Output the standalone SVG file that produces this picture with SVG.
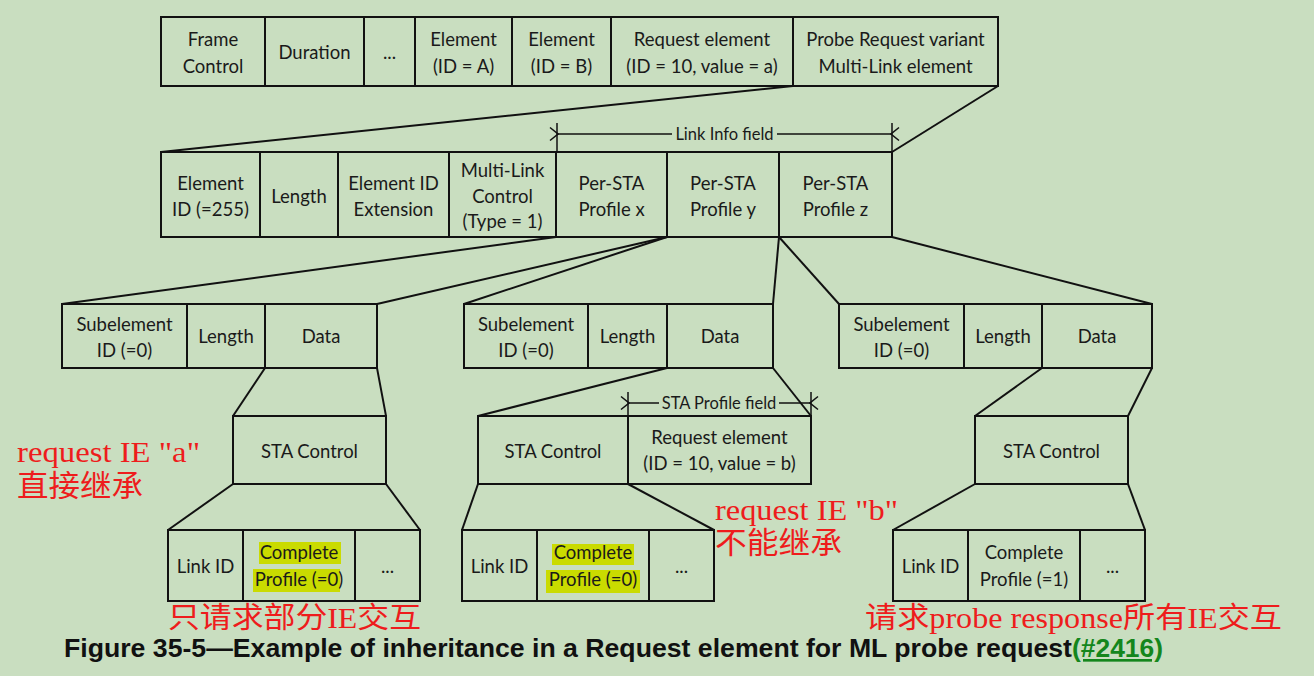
<svg xmlns="http://www.w3.org/2000/svg" width="1314" height="676" viewBox="0 0 1314 676">
<style>
.c{fill:none;stroke:#111;stroke-width:2}
.t{font-family:Lato,"Liberation Sans",sans-serif;font-size:18.5px;fill:#1a1a1a;text-anchor:middle}
.s{font-family:Lato,"Liberation Sans",sans-serif;font-size:16.5px;fill:#1a1a1a;text-anchor:middle}
.l{fill:none;stroke:#111;stroke-width:2}
.a{fill:none;stroke:#111;stroke-width:1.5}
.r{font-family:"Liberation Serif","Noto Sans CJK SC",serif;font-size:30px;fill:#ee1c1c}
.hl{fill:#cadb00}
.cap{font-family:"Liberation Sans",Arial,sans-serif;font-weight:bold;font-size:26.5px;fill:#111}
</style>
<defs>
<marker id="ah" markerWidth="12" markerHeight="16" refX="1" refY="8" orient="auto-start-reverse" markerUnits="userSpaceOnUse">
<path d="M9,1.5 L1,8 L9,14.5" fill="none" stroke="#111" stroke-width="1.5"/>
</marker>
</defs>
<rect width="1314" height="676" fill="#c9dec0"/>

<g id="connectors">
<line class="l" x1="793" y1="86" x2="161" y2="152"/>
<line class="l" x1="998" y1="86" x2="892" y2="152"/>
<line class="l" x1="556" y1="237" x2="62" y2="304"/>
<line class="l" x1="667" y1="237" x2="377" y2="304"/>
<line class="l" x1="667" y1="237" x2="464" y2="304"/>
<line class="l" x1="779" y1="237" x2="773" y2="304"/>
<line class="l" x1="779" y1="237" x2="839" y2="304"/>
<line class="l" x1="892" y1="237" x2="1152" y2="304"/>
<line class="l" x1="265" y1="368" x2="233" y2="416"/>
<line class="l" x1="377" y1="368" x2="386" y2="416"/>
<line class="l" x1="233" y1="484" x2="168" y2="530"/>
<line class="l" x1="386" y1="484" x2="420" y2="530"/>
<line class="l" x1="667" y1="368" x2="478" y2="416"/>
<line class="l" x1="773" y1="368" x2="811" y2="416"/>
<line class="l" x1="478" y1="484" x2="462" y2="530"/>
<line class="l" x1="628" y1="484" x2="714" y2="530"/>
<line class="l" x1="1042" y1="368" x2="975" y2="416"/>
<line class="l" x1="1152" y1="368" x2="1128" y2="416"/>
<line class="l" x1="975" y1="484" x2="893" y2="530"/>
<line class="l" x1="1128" y1="484" x2="1145" y2="530"/>
</g>

<g id="frame">
<rect class="c" x="161" y="17" width="837" height="69"/>
<path class="c" d="M265,17V86M364,17V86M415,17V86M512,17V86M611,17V86M793,17V86"/>
<g id="f-fc"><text class="t" x="213" y="46">Frame</text><text class="t" x="213" y="73">Control</text></g>
<g id="f-dur"><text class="t" x="314.5" y="59">Duration</text></g>
<g id="f-dots"><text class="t" x="389.5" y="59">...</text></g>
<g id="f-ea"><text class="t" x="463.5" y="46">Element</text><text class="t" x="463.5" y="73">(ID = A)</text></g>
<g id="f-eb"><text class="t" x="561.5" y="46">Element</text><text class="t" x="561.5" y="73">(ID = B)</text></g>
<g id="f-req"><text class="t" x="702" y="46">Request element</text><text class="t" x="702" y="73">(ID = 10, value = a)</text></g>
<g id="f-ml"><text class="t" x="895.5" y="46">Probe Request variant</text><text class="t" x="895.5" y="73">Multi-Link element</text></g>
</g>

<g id="link-info-field">
<path class="a" d="M557,123V152M892,123V152"/>
<line class="a" x1="558" y1="134" x2="672" y2="134" marker-start="url(#ah)"/>
<line class="a" x1="777" y1="134" x2="891" y2="134" marker-end="url(#ah)"/>
<text class="s" x="724.5" y="140">Link Info field</text>
</g>

<g id="ml-element">
<rect class="c" x="161" y="152" width="731" height="85"/>
<path class="c" d="M260,152V237M338,152V237M449,152V237M556,152V237M667,152V237M779,152V237"/>
<g id="m-eid"><text class="t" x="210.5" y="190">Element</text><text class="t" x="210.5" y="216">ID (=255)</text></g>
<g id="m-len"><text class="t" x="299" y="203">Length</text></g>
<g id="m-ext"><text class="t" x="393.5" y="190">Element ID</text><text class="t" x="393.5" y="216">Extension</text></g>
<g id="m-ctl"><text class="t" x="502.5" y="177">Multi-Link</text><text class="t" x="502.5" y="203">Control</text><text class="t" x="502.5" y="228">(Type = 1)</text></g>
<g id="m-px"><text class="t" x="611.5" y="190">Per-STA</text><text class="t" x="611.5" y="216">Profile x</text></g>
<g id="m-py"><text class="t" x="723" y="190">Per-STA</text><text class="t" x="723" y="216">Profile y</text></g>
<g id="m-pz"><text class="t" x="835.5" y="190">Per-STA</text><text class="t" x="835.5" y="216">Profile z</text></g>
</g>

<g id="sub-x">
<rect class="c" x="62" y="304" width="315" height="64"/>
<path class="c" d="M187,304V368M265,304V368"/>
<text class="t" x="124.5" y="331">Subelement</text><text class="t" x="124.5" y="357">ID (=0)</text>
<text class="t" x="226" y="343">Length</text>
<text class="t" x="321" y="343">Data</text>
</g>
<g id="stactl-x">
<rect class="c" x="233" y="416" width="153" height="68"/>
<text class="t" x="309.5" y="458">STA Control</text>
</g>
<g id="fields-x">
<rect class="c" x="168" y="530" width="252" height="71"/>
<path class="c" d="M243,530V601M355,530V601"/>
<text class="t" x="205.5" y="573">Link ID</text>
<rect class="hl" x="259" y="542" width="82" height="22"/>
<rect class="hl" x="253" y="569" width="87" height="23"/>
<text class="t" x="299" y="559">Complete</text><text class="t" x="299" y="586">Profile (=0)</text>
<text class="t" x="387.5" y="573">...</text>
</g>

<g id="sub-y">
<rect class="c" x="464" y="304" width="309" height="64"/>
<path class="c" d="M588,304V368M667,304V368"/>
<text class="t" x="526" y="331">Subelement</text><text class="t" x="526" y="357">ID (=0)</text>
<text class="t" x="627.5" y="343">Length</text>
<text class="t" x="720" y="343">Data</text>
</g>
<g id="sta-profile-field">
<path class="a" d="M628,392V416M811,392V416"/>
<line class="a" x1="629" y1="403" x2="659" y2="403" marker-start="url(#ah)"/>
<line class="a" x1="779" y1="403" x2="810" y2="403" marker-end="url(#ah)"/>
<text class="s" x="719" y="409">STA Profile field</text>
</g>
<g id="stactl-y">
<rect class="c" x="478" y="416" width="333" height="68"/>
<path class="c" d="M628,416V484"/>
<text class="t" x="553" y="458">STA Control</text>
<text class="t" x="719.5" y="444">Request element</text><text class="t" x="719.5" y="470">(ID = 10, value = b)</text>
</g>
<g id="fields-y">
<rect class="c" x="462" y="530" width="252" height="71"/>
<path class="c" d="M537,530V601M649,530V601"/>
<text class="t" x="499.5" y="573">Link ID</text>
<rect class="hl" x="552" y="544" width="82" height="21"/>
<rect class="hl" x="546" y="570" width="94" height="23"/>
<text class="t" x="593" y="559">Complete</text><text class="t" x="593" y="586">Profile (=0)</text>
<text class="t" x="681.5" y="573">...</text>
</g>

<g id="sub-z">
<rect class="c" x="839" y="304" width="313" height="64"/>
<path class="c" d="M964,304V368M1042,304V368"/>
<text class="t" x="901.5" y="331">Subelement</text><text class="t" x="901.5" y="357">ID (=0)</text>
<text class="t" x="1003" y="343">Length</text>
<text class="t" x="1097" y="343">Data</text>
</g>
<g id="stactl-z">
<rect class="c" x="975" y="416" width="153" height="68"/>
<text class="t" x="1051.5" y="458">STA Control</text>
</g>
<g id="fields-z">
<rect class="c" x="893" y="530" width="252" height="71"/>
<path class="c" d="M968,530V601M1080,530V601"/>
<text class="t" x="930.5" y="573">Link ID</text>
<text class="t" x="1024" y="559">Complete</text><text class="t" x="1024" y="586">Profile (=1)</text>
<text class="t" x="1112.5" y="573">...</text>
</g>

<g id="notes">
<text class="r" x="17" y="462" textLength="183" lengthAdjust="spacingAndGlyphs">request IE "a"</text>
<text class="r" x="17" y="496" textLength="126" lengthAdjust="spacingAndGlyphs">直接继承</text>
<text class="r" x="715" y="520" textLength="183" lengthAdjust="spacingAndGlyphs">request IE "b"</text>
<text class="r" x="715" y="553" textLength="127" lengthAdjust="spacingAndGlyphs">不能继承</text>
<text class="r" x="168" y="628" font-size="29" textLength="253" lengthAdjust="spacingAndGlyphs" style="font-size:29px">只请求部分IE交互</text>
<text class="r" x="865" y="628" textLength="417" lengthAdjust="spacingAndGlyphs" style="font-size:29px">请求probe response所有IE交互</text>
</g>

<g id="caption">
<text class="cap" x="64" y="657" textLength="1008" lengthAdjust="spacingAndGlyphs">Figure 35-5—Example of inheritance in a Request element for ML probe request</text>
<text class="cap" x="1072" y="657" textLength="91" lengthAdjust="spacingAndGlyphs" text-decoration="underline" style="fill:#14861c">(#2416)</text>
</g>
</svg>
